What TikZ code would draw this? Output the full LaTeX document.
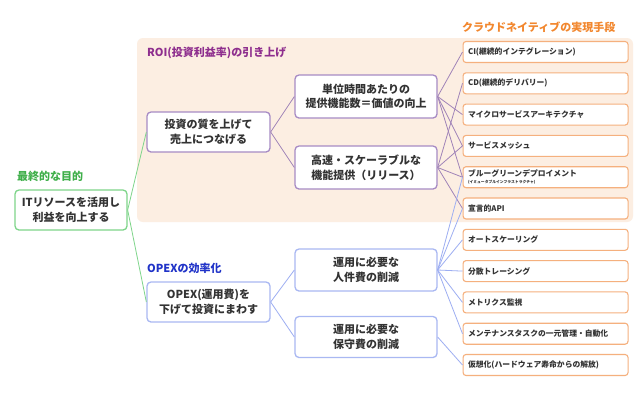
\documentclass[tikz,border=0pt]{standalone}
\usepackage{fontspec}
\setmainfont{Noto Sans CJK JP}
\definecolor{peach}{HTML}{FCEEE2}
\definecolor{greenh}{HTML}{3FAF4A}
\definecolor{greenb}{HTML}{7ED58A}
\definecolor{purph}{HTML}{8E2E8E}
\definecolor{purpb}{HTML}{A78BC4}
\definecolor{purpl}{HTML}{A083B8}
\definecolor{blueh}{HTML}{2033C8}
\definecolor{blueb}{HTML}{A9B8F2}
\definecolor{bluel}{HTML}{9DAEF2}
\definecolor{orangeh}{HTML}{F2872E}
\definecolor{orangeb}{HTML}{F5B07E}
\definecolor{txt}{HTML}{333333}
\begin{document}
\begin{tikzpicture}[x=1pt,y=-1pt,
  box/.style={draw, rounded corners=4pt, fill=white, line width=1.3pt, align=center,
    font=\bfseries\fontsize{11}{14.5}\selectfont, text=txt, inner sep=0pt},
  means/.style={draw=orangeb, rounded corners=3pt, fill=white, line width=1.1pt, anchor=west,
    align=left, text width=155pt, inner xsep=5pt, inner ysep=0pt, minimum height=21pt,
    font=\bfseries\fontsize{7.8}{9}\selectfont, text=txt},
  heading/.style={anchor=west, inner sep=0pt, font=\bfseries\fontsize{11}{12}\selectfont},
  gline/.style={draw=greenb, line width=0.8pt},
  pline/.style={draw=purpl, line width=0.8pt},
  bline/.style={draw=bluel, line width=0.8pt}]
\useasboundingbox (0,0) rectangle (640,400);
\fill[white] (0,0) rectangle (640,400);
\fill[peach, rounded corners=6pt] (137,38) rectangle (633,222);

% headings
\node[heading, text=greenh] (hgoal) at (17,176) {最終的な目的};
\node[heading, text=purph] (hroi) at (147,53) {ROI(投資利益率)の引き上げ};
\node[heading, text=blueh] (hopex) at (147,268) {OPEXの効率化};
\node[heading, text=orangeh] (hmeans) at (462,27) {クラウドネイティブの実現手段};

% main boxes
\node[box, draw=greenb, minimum width=112pt, minimum height=40pt] (goal) at (71,210) {ITリソースを活用し\\利益を向上する};
\node[box, draw=purpb, minimum width=123pt, minimum height=40pt] (roi) at (208.5,132) {投資の質を上げて\\売上につなげる};
\node[box, draw=blueb, minimum width=123pt, minimum height=40pt] (opex) at (208.5,302) {OPEX(運用費)を\\下げて投資にまわす};
\node[box, draw=purpb, minimum width=142pt, minimum height=43pt] (v1) at (366,96.5) {単位時間あたりの\\提供機能数＝価値の向上};
\node[box, draw=purpb, minimum width=142pt, minimum height=43pt] (v2) at (366,167.5) {高速・スケーラブルな\\機能提供（リリース）};
\node[box, draw=blueb, minimum width=142pt, minimum height=42pt] (o1) at (366,270) {運用に必要な\\人件費の削減};
\node[box, draw=blueb, minimum width=142pt, minimum height=41pt] (o2) at (366,337) {運用に必要な\\保守費の削減};

% means
\node[means] (m1) at (462.5,52) {CI(継続的インテグレーション)};
\node[means] (m2) at (462.5,83.3) {CD(継続的デリバリー)};
\node[means] (m3) at (462.5,114.6) {マイクロサービスアーキテクチャ};
\node[means] (m4) at (462.5,145.9) {サービスメッシュ};
\node[means] (m5) at (462.5,177.2) {ブルーグリーンデプロイメント\\[-2pt]{\fontsize{3.8}{4}\selectfont (イミュータブルインフラストラクチャ)}};
\node[means] (m6) at (462.5,208.5) {宣言的API};
\node[means] (m7) at (462.5,239.8) {オートスケーリング};
\node[means] (m8) at (462.5,271.1) {分散トレーシング};
\node[means] (m9) at (462.5,302.4) {メトリクス監視};
\node[means] (m10) at (462.5,333.7) {メンテナンスタスクの一元管理・自動化};
\node[means] (m11) at (462.5,365) {仮想化(ハードウェア寿命からの解放)};

% connectors
\draw[gline] (goal.east) -- (roi.west);
\draw[gline] (goal.east) -- (opex.west);
\draw[pline] (roi.east) -- (v1.west);
\draw[pline] (roi.east) -- (v2.west);
\draw[bline] (opex.east) -- (o1.west);
\draw[bline] (opex.east) -- (o2.west);
\foreach \m in {m1,m3,m4,m5} \draw[pline] (v1.east) -- (\m.west);
\foreach \m in {m2,m4,m5,m6} \draw[pline] (v2.east) -- (\m.west);
\foreach \m in {m5,m6,m7,m8,m9,m10} \draw[bline] (o1.east) -- (\m.west);
\draw[bline] (o2.east) -- (m11.west);
\end{tikzpicture}
\end{document}
